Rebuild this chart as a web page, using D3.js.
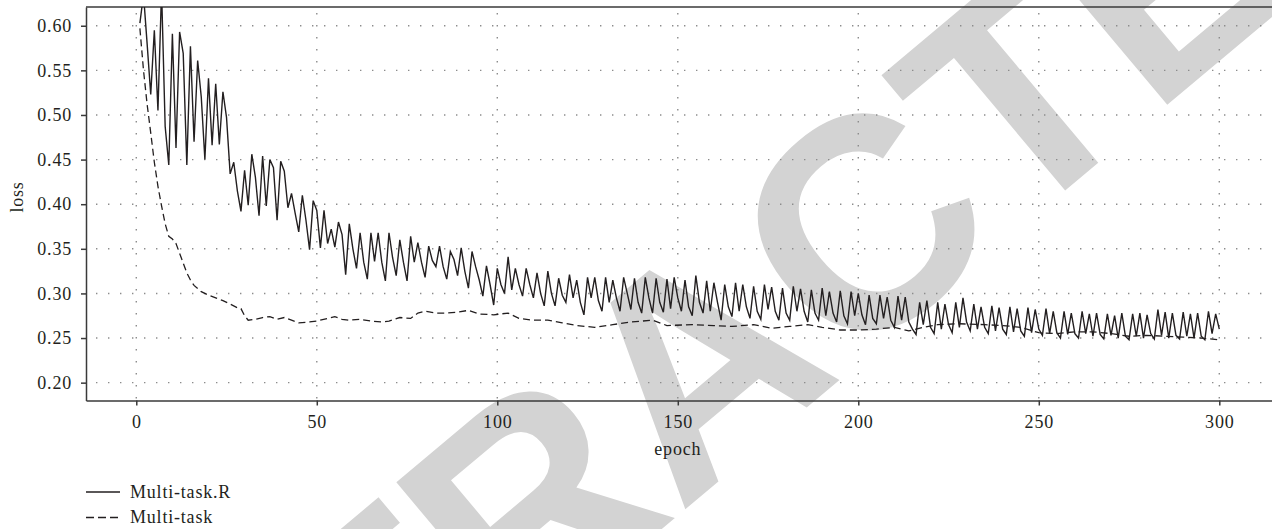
<!DOCTYPE html>
<html>
<head>
<meta charset="utf-8">
<script src="https://cdn.jsdelivr.net/npm/d3@7/dist/d3.min.js"></script>
<style>
	html, body { margin: 0; padding: 0; background: #fff; }
	svg text { font-family: "Liberation Serif", "Times New Roman", serif; fill: #231f20; }
</style>
</head>
<body>
<div id="chart"></div>
<script>
	// values
	var xTicks = [0, 50, 100, 150, 200, 250, 300];
	var yTicks = [0.20, 0.25, 0.30, 0.35, 0.40, 0.45, 0.50, 0.55, 0.60];

	// Multi-task.R, one value per epoch starting at epoch 1
	var lossR = [
		0.603, 0.635, 0.580, 0.523, 0.595, 0.505, 0.640, 0.487, 0.444, 0.591,
		0.463, 0.593, 0.569, 0.444, 0.577, 0.470, 0.561, 0.520, 0.450, 0.541,
		0.466, 0.535, 0.467, 0.526, 0.497, 0.434, 0.447, 0.415, 0.392, 0.438,
		0.399, 0.456, 0.430, 0.387, 0.454, 0.398, 0.450, 0.441, 0.382, 0.448,
		0.437, 0.396, 0.412, 0.390, 0.369, 0.410, 0.382, 0.349, 0.404, 0.393,
		0.351, 0.393, 0.356, 0.372, 0.352, 0.380, 0.366, 0.321, 0.378, 0.350,
		0.328, 0.368, 0.335, 0.316, 0.368, 0.336, 0.368, 0.335, 0.314, 0.368,
		0.340, 0.320, 0.360, 0.335, 0.314, 0.364, 0.335, 0.357, 0.335, 0.318,
		0.353, 0.337, 0.330, 0.353, 0.330, 0.316, 0.347, 0.338, 0.320, 0.351,
		0.325, 0.306, 0.347, 0.330, 0.315, 0.297, 0.331, 0.310, 0.287, 0.328,
		0.310, 0.300, 0.341, 0.304, 0.328, 0.310, 0.297, 0.328, 0.310, 0.295,
		0.323, 0.300, 0.286, 0.325, 0.300, 0.286, 0.317, 0.298, 0.290, 0.321,
		0.295, 0.315, 0.290, 0.276, 0.318, 0.295, 0.318, 0.292, 0.280, 0.318,
		0.290, 0.315, 0.295, 0.280, 0.318, 0.300, 0.282, 0.317, 0.290, 0.278,
		0.318, 0.295, 0.278, 0.317, 0.290, 0.279, 0.316, 0.283, 0.318, 0.295,
		0.280, 0.315, 0.285, 0.275, 0.320, 0.290, 0.278, 0.314, 0.280, 0.312,
		0.290, 0.270, 0.310, 0.285, 0.274, 0.312, 0.280, 0.310, 0.285, 0.272,
		0.308, 0.280, 0.271, 0.310, 0.282, 0.307, 0.280, 0.270, 0.306, 0.278,
		0.270, 0.308, 0.280, 0.305, 0.280, 0.268, 0.304, 0.278, 0.270, 0.306,
		0.275, 0.302, 0.278, 0.268, 0.303, 0.275, 0.266, 0.302, 0.275, 0.300,
		0.276, 0.265, 0.298, 0.272, 0.266, 0.298, 0.272, 0.296, 0.270, 0.262,
		0.297, 0.270, 0.296, 0.268, 0.260, 0.254, 0.290, 0.265, 0.292, 0.262,
		0.255, 0.290, 0.260, 0.288, 0.265, 0.256, 0.290, 0.262, 0.295, 0.268,
		0.258, 0.288, 0.260, 0.285, 0.262, 0.255, 0.286, 0.258, 0.284, 0.260,
		0.254, 0.285, 0.257, 0.283, 0.258, 0.252, 0.284, 0.256, 0.282, 0.260,
		0.253, 0.283, 0.255, 0.280, 0.256, 0.250, 0.280, 0.254, 0.278, 0.255,
		0.250, 0.280, 0.255, 0.277, 0.252, 0.278, 0.254, 0.249, 0.277, 0.253,
		0.275, 0.250, 0.278, 0.252, 0.248, 0.277, 0.252, 0.278, 0.250, 0.276,
		0.255, 0.249, 0.282, 0.253, 0.279, 0.250, 0.278, 0.253, 0.249, 0.279,
		0.252, 0.277, 0.250, 0.278, 0.252, 0.248, 0.280, 0.255, 0.277, 0.260
	];

	// Multi-task, read at the epochs below
	var dashEpochs = [
		1, 2, 3, 4, 5, 6, 7, 8, 9, 10, 11, 12, 13, 14, 15, 16, 18, 20, 22, 24,
		26, 28, 29, 30, 31, 33, 35, 37, 39, 41, 43, 45, 48, 50, 53, 55, 57, 59, 62, 65,
		68, 70, 73, 76, 78, 80, 83, 86, 89, 92, 95, 99, 103, 106, 110, 114, 118, 122, 127, 132,
		137, 143, 147, 154, 160, 165, 171, 176, 181, 186, 190, 195, 200, 205, 210, 214, 218, 222, 228, 235,
		240, 245, 250, 255, 260, 265, 270, 275, 280, 285, 290, 295, 300
	];
	var dashLoss = [
		0.597, 0.550, 0.512, 0.480, 0.447, 0.420, 0.398, 0.378, 0.364, 0.361, 0.356, 0.345, 0.334, 0.323, 0.315, 0.309, 0.302, 0.298, 0.295, 0.292,
		0.288, 0.284, 0.283, 0.275, 0.270, 0.271, 0.273, 0.274, 0.271, 0.273, 0.270, 0.267, 0.268, 0.269, 0.272, 0.274, 0.271, 0.270, 0.271, 0.269,
		0.268, 0.269, 0.273, 0.272, 0.278, 0.280, 0.278, 0.278, 0.279, 0.281, 0.277, 0.276, 0.278, 0.272, 0.270, 0.270, 0.267, 0.264, 0.262, 0.265,
		0.268, 0.270, 0.264, 0.265, 0.264, 0.263, 0.265, 0.261, 0.263, 0.265, 0.262, 0.259, 0.259, 0.260, 0.262, 0.258, 0.262, 0.265, 0.266, 0.265,
		0.264, 0.262, 0.256, 0.255, 0.257, 0.257, 0.255, 0.252, 0.253, 0.252, 0.251, 0.250, 0.248
	];

	var seriesNames = ["Multi-task.R", "Multi-task"];

	var W = 1272, H = 529;
	var mLeft = 86, mTop = 7, mBottom = 400.5;

	var svg = d3.select("#chart").append("svg")
		.attr("width", W)
		.attr("height", H);

	// grey watermark lying under the chart
	svg.append("text")
		.attr("transform", "translate(54,1039) rotate(-40)")
		.style("font-family", "'Liberation Sans', Arial, sans-serif")
		.style("font-weight", "bold")
		.style("font-size", "300px")
		.style("fill", "#d3d3d3")
		.text("RETRACTED");

	var x = d3.scaleLinear().domain([-13.93, 314.6]).range([mLeft, W]);
	var y = d3.scaleLinear().domain([0.18, 0.621]).range([mBottom, mTop]);

	// dotted grid
	var grid = svg.append("g").attr("class", "grid");
	grid.selectAll(".hgrid")
		.data(yTicks)
		.enter().append("line")
		.attr("x1", mLeft + 10).attr("x2", W)
		.attr("y1", function (d) { return y(d); })
		.attr("y2", function (d) { return y(d); })
		.style("stroke", "#8c8c8c")
		.style("stroke-width", 1.4)
		.style("stroke-dasharray", "1.4,10.6");
	grid.selectAll(".vgrid")
		.data(xTicks)
		.enter().append("line")
		.attr("x1", function (d) { return x(d); })
		.attr("x2", function (d) { return x(d); })
		.attr("y1", mTop + 6).attr("y2", mBottom)
		.style("stroke", "#8c8c8c")
		.style("stroke-width", 1.4)
		.style("stroke-dasharray", "1.4,10.6");

	// axes
	var xAxis = svg.append("g")
		.attr("transform", "translate(0," + mBottom + ")")
		.call(d3.axisBottom(x).tickValues(xTicks).tickSizeInner(5).tickSizeOuter(0).tickPadding(10));
	var yAxis = svg.append("g")
		.attr("transform", "translate(" + mLeft + ",0)")
		.call(d3.axisLeft(y).tickValues(yTicks).tickFormat(d3.format(".2f")).tickSizeInner(5).tickSizeOuter(0).tickPadding(9));
	[xAxis, yAxis].forEach(function (a) {
		a.select(".domain").style("stroke", "#3a3a3a").style("stroke-width", 1.5);
		a.selectAll(".tick line").style("stroke", "#3a3a3a").style("stroke-width", 1.5);
		a.selectAll(".tick text")
			.style("font-family", "'Liberation Serif', serif")
			.style("font-size", "18px")
			.style("letter-spacing", "0.8px")
			.style("fill", "#231f20");
	});

	// top spine
	svg.append("line")
		.attr("x1", mLeft).attr("x2", W)
		.attr("y1", mTop).attr("y2", mTop)
		.style("stroke", "#3a3a3a")
		.style("stroke-width", 1.5);

	svg.append("text")
		.attr("x", x(150))
		.attr("y", 455)
		.attr("text-anchor", "middle")
		.style("font-size", "18px")
		.style("letter-spacing", "0.8px")
		.text("epoch");
	svg.append("text")
		.attr("transform", "translate(23,197) rotate(-90)")
		.attr("text-anchor", "middle")
		.style("font-size", "18px")
		.style("letter-spacing", "0.8px")
		.text("loss");

	// lines
	svg.append("clipPath").attr("id", "plotclip")
		.append("rect")
		.attr("x", mLeft).attr("y", mTop)
		.attr("width", W - mLeft).attr("height", mBottom - mTop);

	var plot = svg.append("g").attr("clip-path", "url(#plotclip)");

	var lineR = d3.line()
		.x(function (d, i) { return x(i + 1); })
		.y(function (d) { return y(d); });
	var lineM = d3.line()
		.x(function (d, i) { return x(dashEpochs[i]); })
		.y(function (d) { return y(d); });

	plot.append("path")
		.datum(dashLoss)
		.attr("d", lineM)
		.style("fill", "none")
		.style("stroke", "#231f20")
		.style("stroke-width", 1.3)
		.style("stroke-dasharray", "7,4");
	plot.append("path")
		.datum(lossR)
		.attr("d", lineR)
		.style("fill", "none")
		.style("stroke", "#231f20")
		.style("stroke-width", 1.4);

	// legend
	var legend = svg.append("g");
	var legendY = [492, 517.5];
	seriesNames.forEach(function (name, i) {
		legend.append("line")
			.attr("x1", 86).attr("x2", 120)
			.attr("y1", legendY[i]).attr("y2", legendY[i])
			.style("stroke", "#231f20")
			.style("stroke-width", 1.3)
			.style("stroke-dasharray", i === 1 ? "8,4" : null);
		legend.append("text")
			.attr("x", 130)
			.attr("y", legendY[i] + 5.5)
			.style("font-size", "18px")
			.style("letter-spacing", "0.8px")
			.text(name);
	});
</script>
</body>
</html>
